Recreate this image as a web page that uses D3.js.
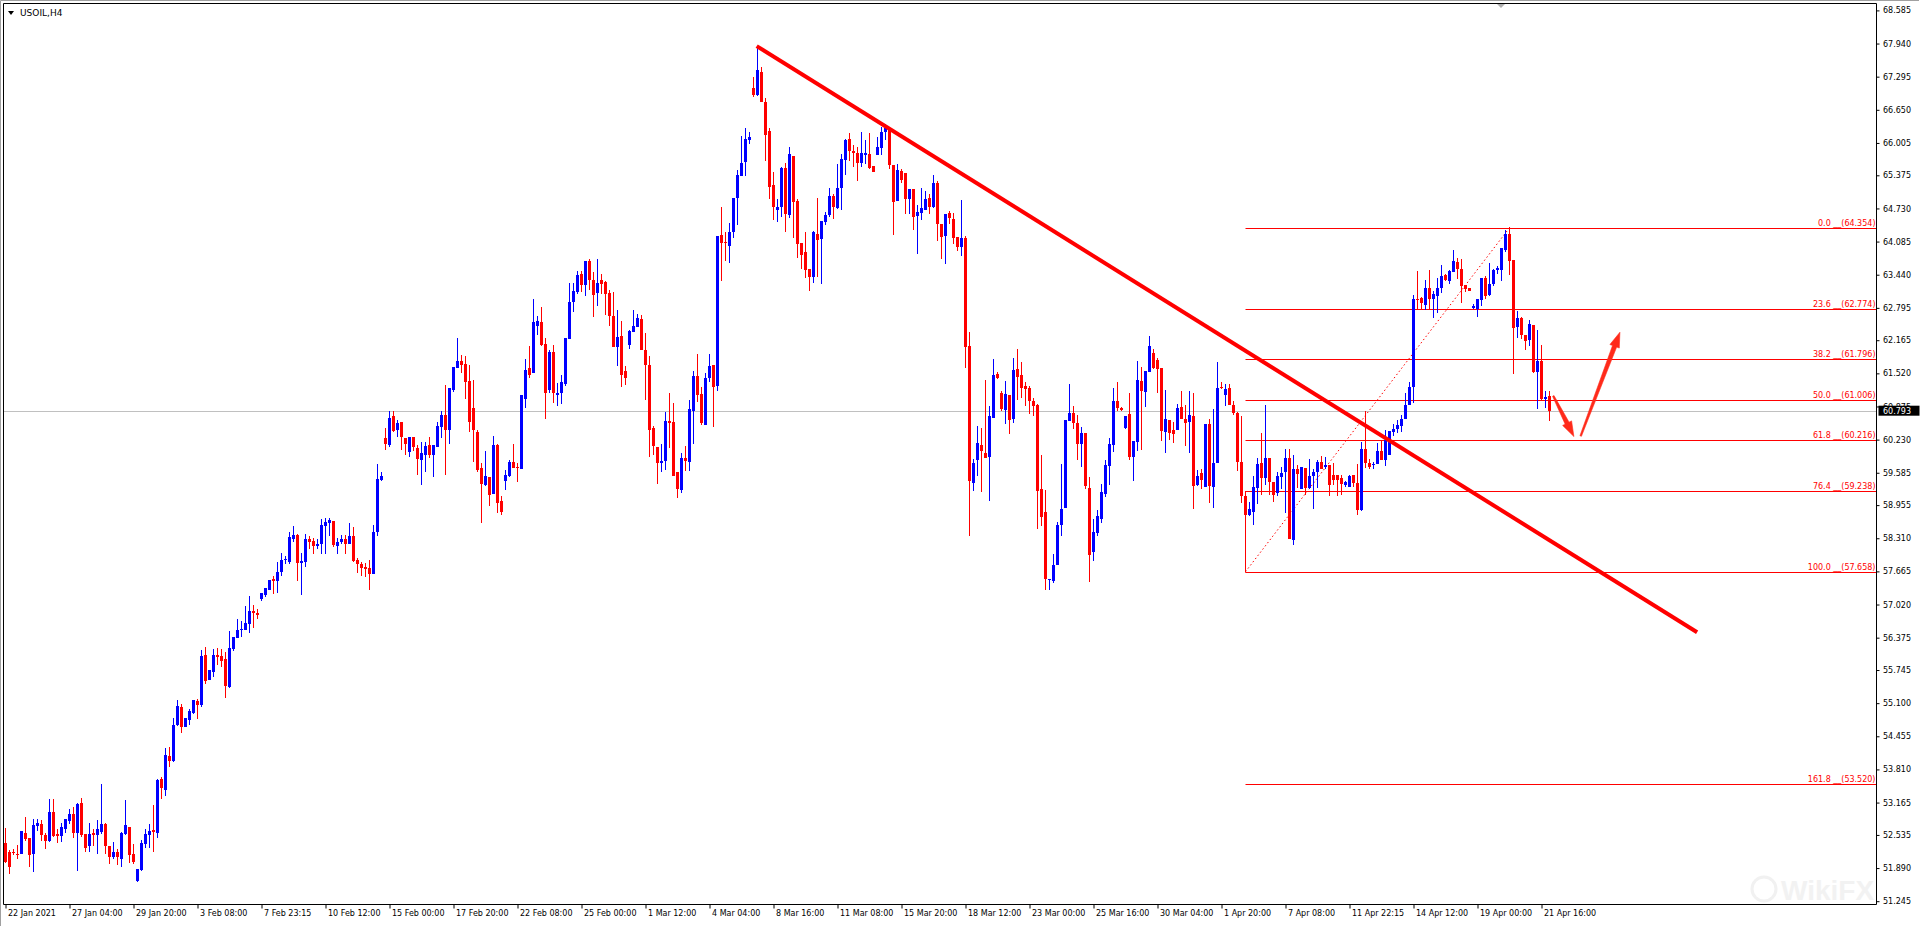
<!DOCTYPE html>
<html><head><meta charset="utf-8">
<script src="https://cdn.jsdelivr.net/npm/d3@7"></script>
<style>html,body{margin:0;padding:0;background:#fff;overflow:hidden}</style>
</head><body>
<svg id="c" width="1920" height="927" xmlns="http://www.w3.org/2000/svg"></svg>
<script>
const symbol = "USOIL,H4";
const timeLabels = ["22 Jan 2021","27 Jan 04:00","29 Jan 20:00","3 Feb 08:00","7 Feb 23:15","10 Feb 12:00","15 Feb 00:00","17 Feb 20:00","22 Feb 08:00","25 Feb 00:00","1 Mar 12:00","4 Mar 04:00","8 Mar 16:00","11 Mar 08:00","15 Mar 20:00","18 Mar 12:00","23 Mar 00:00","25 Mar 16:00","30 Mar 04:00","1 Apr 20:00","7 Apr 08:00","11 Apr 22:15","14 Apr 12:00","19 Apr 00:00","21 Apr 16:00"];
const timeLabelBars = [0,16,32,48,64,80,96,112,128,144,160,176,192,208,224,240,256,272,288,304,320,336,352,368,384];
const priceTicks = [68.585,67.940,67.295,66.650,66.005,65.375,64.730,64.085,63.440,62.795,62.165,61.520,60.875,60.230,59.585,58.955,58.310,57.665,57.020,56.375,55.745,55.100,54.455,53.810,53.165,52.535,51.890,51.245];
const currentPrice = 60.793;

const opens = [52.37,52.21,52.21,52.17,52.16,52.58,52.48,52.16,52.70,52.74,52.54,52.41,52.99,52.56,52.51,52.66,52.80,52.95,52.58,53.15,52.56,52.31,52.58,52.53,52.60,52.74,52.31,52.10,52.21,52.06,52.56,52.68,52.17,51.64,51.85,52.35,52.54,52.64,52.58,53.63,53.40,54.08,53.98,54.67,55.02,54.63,54.78,54.90,55.15,55.06,56.03,55.56,55.70,56.03,56.01,55.95,55.41,56.15,56.36,56.52,56.53,56.65,56.90,56.85,57.12,57.20,57.31,57.51,57.47,57.66,57.88,57.84,58.29,58.38,57.82,57.84,58.29,58.25,58.15,58.19,58.54,58.60,58.64,58.15,58.23,58.29,58.19,58.35,57.88,57.80,57.76,57.74,57.61,58.43,59.45,60.27,60.12,60.68,60.41,60.58,60.27,59.98,60.29,60.06,59.84,59.94,60.12,59.94,60.08,60.47,60.70,60.41,61.19,61.63,61.77,61.71,61.38,60.84,60.37,59.67,59.34,59.51,59.18,60.12,59.03,59.42,59.53,59.80,59.69,59.65,61.03,61.62,61.52,62.45,62.51,62.10,61.19,61.93,61.09,61.13,61.32,62.18,62.90,63.11,63.45,63.23,63.70,63.33,63.08,63.33,63.29,63.08,62.63,62.04,62.24,61.56,62.08,62.32,62.43,62.57,61.98,61.69,60.45,60.08,59.78,59.82,60.60,60.58,59.59,59.24,59.88,59.80,60.78,61.46,61.11,60.52,61.42,61.69,61.27,64.22,64.07,64.00,64.27,64.94,65.36,65.63,66.06,67.08,66.93,67.39,66.80,66.24,65.18,64.69,64.76,65.51,64.61,65.76,64.87,64.05,63.88,63.56,63.39,64.24,64.13,64.47,64.60,64.97,64.73,65.12,65.67,66.09,65.85,65.80,65.62,65.77,65.78,65.55,65.77,65.91,66.22,66.30,65.57,64.87,65.46,65.42,64.92,65.10,64.58,64.65,64.70,64.93,64.76,65.22,64.42,64.20,64.65,64.52,64.18,63.98,64.16,62.06,59.39,59.83,60.13,59.97,59.89,60.66,61.50,61.14,60.80,61.09,60.64,61.60,61.48,61.28,61.23,60.99,60.91,59.26,58.83,57.51,57.48,57.78,58.56,58.89,60.60,60.74,60.56,60.14,60.35,59.29,58.04,58.42,58.68,59.18,59.71,60.12,60.99,60.85,60.46,60.72,59.89,60.18,61.38,61.16,61.54,61.92,61.78,61.62,60.38,60.62,60.42,60.42,60.86,60.64,60.57,60.69,59.34,59.58,59.31,60.54,59.31,59.77,61.26,61.10,61.24,60.91,60.74,59.79,59.14,58.76,58.82,59.29,59.78,59.49,59.88,59.40,59.19,59.51,59.59,59.88,58.27,59.65,59.27,59.68,59.29,59.52,59.59,59.79,59.70,59.73,59.55,59.55,59.49,59.34,59.31,59.55,59.39,58.86,60.04,59.78,59.73,59.75,60.01,59.84,59.94,60.38,60.43,60.49,60.64,60.91,61.26,62.97,62.99,62.86,63.19,62.96,63.02,63.19,63.43,63.32,63.49,63.69,63.56,63.23,63.19,62.80,62.78,62.95,63.38,63.04,63.25,63.53,63.53,63.93,64.24,63.72,62.42,62.60,62.26,62.17,62.47,61.54,61.77,61.03,61.08];
const highs = [52.67,52.25,52.27,52.33,52.62,52.88,52.48,52.84,52.84,52.82,52.58,53.23,53.23,52.66,52.76,52.84,53.03,53.07,53.15,53.26,52.56,52.76,52.66,52.82,53.52,52.76,52.31,52.39,52.27,52.60,53.21,52.68,52.35,51.87,52.43,52.66,52.74,53.11,53.63,53.67,54.22,54.24,54.82,55.17,55.08,54.82,54.98,55.17,55.19,56.13,56.20,55.74,56.15,56.17,56.15,56.09,56.50,56.38,56.73,56.69,57.00,57.18,57.02,56.94,57.24,57.35,57.49,57.57,57.84,58.03,57.96,58.44,58.54,58.40,58.03,58.40,58.36,58.31,58.29,58.68,58.71,58.71,58.64,58.31,58.38,58.38,58.60,58.52,57.92,57.84,57.82,57.88,58.56,59.75,59.59,60.45,60.79,60.78,60.62,60.58,60.27,60.29,60.29,60.12,60.19,60.19,60.29,60.12,60.58,60.78,61.30,61.23,61.65,62.20,61.87,61.85,61.69,61.40,60.41,59.77,60.00,59.51,60.31,60.14,59.14,59.63,59.84,60.15,59.78,61.09,61.79,62.06,62.96,62.63,62.82,62.20,61.97,62.08,61.34,61.48,62.20,63.27,63.27,63.52,63.52,63.70,63.74,63.50,63.74,63.46,63.31,63.15,63.11,62.76,62.53,61.67,62.37,62.76,62.67,62.65,62.30,61.85,60.49,60.08,60.14,60.76,61.13,60.95,59.59,59.96,60.10,61.01,61.56,61.89,61.26,61.52,61.89,61.69,64.20,64.76,64.27,64.44,64.94,65.47,66.14,66.30,66.22,67.29,67.88,67.49,66.88,66.30,65.44,64.92,65.54,65.62,65.92,65.76,64.91,64.05,64.27,63.56,64.30,64.93,64.48,64.67,65.12,65.02,65.59,65.78,66.09,66.19,65.96,65.93,66.22,66.07,66.19,65.55,66.12,66.32,66.38,66.32,65.57,65.59,65.49,65.42,65.10,65.10,64.80,65.12,65.07,65.02,65.39,65.26,64.42,64.63,64.68,64.65,64.18,64.89,64.19,62.33,59.86,60.50,60.45,61.40,60.89,61.79,61.54,61.17,61.37,61.09,61.82,62.00,61.75,61.35,61.28,61.04,60.93,59.94,59.24,57.52,58.01,58.62,59.75,60.62,61.32,60.88,60.70,60.47,60.35,59.51,58.68,58.86,59.36,59.83,60.27,61.23,61.36,60.86,60.68,61.13,60.20,61.77,61.65,61.56,62.25,61.99,61.81,61.62,61.19,60.62,60.57,60.93,61.17,60.91,61.17,61.14,59.63,59.65,60.53,60.64,60.82,61.75,61.36,61.32,61.32,60.99,60.77,60.69,59.23,59.02,59.53,59.88,60.35,60.90,59.88,59.40,59.59,59.70,60.05,60.05,59.94,59.73,59.70,59.68,59.86,59.65,59.83,59.92,59.90,59.73,59.77,59.55,59.55,59.42,59.55,59.55,59.75,60.18,60.79,59.86,59.79,60.16,60.20,60.41,60.40,60.54,60.62,60.70,61.14,61.36,63.04,63.51,63.01,63.33,63.54,63.12,63.38,63.62,63.45,63.54,63.93,63.77,63.74,63.23,63.19,62.87,62.96,63.38,63.41,63.67,63.56,63.61,63.96,64.31,64.37,63.72,62.73,62.62,62.26,62.55,62.47,62.36,62.08,61.17,61.17];
const lows = [51.99,51.77,52.15,52.06,52.16,52.41,51.91,51.81,52.62,52.41,52.27,52.39,52.49,52.37,52.39,52.58,52.74,52.47,51.83,52.50,52.21,52.21,52.31,52.17,52.56,52.17,51.97,52.06,51.95,51.91,52.53,51.99,51.97,51.62,51.83,52.29,52.29,52.21,52.47,53.23,53.30,53.85,53.95,54.65,54.51,54.63,54.67,54.88,54.80,55.02,55.47,55.55,55.60,55.85,55.81,55.21,55.39,56.11,56.36,56.38,56.52,56.46,56.57,56.73,57.08,57.16,57.31,57.22,57.24,57.57,57.80,57.80,58.23,57.47,57.20,57.76,58.11,58.01,58.11,58.01,58.01,58.35,58.13,58.01,58.19,58.01,58.19,57.84,57.64,57.57,57.55,57.31,57.61,58.35,59.42,60.02,60.08,60.37,60.29,60.02,59.94,59.90,60.00,59.55,59.34,59.59,59.88,59.51,60.08,60.27,59.55,60.14,61.15,61.62,61.52,61.03,60.37,59.80,59.59,58.60,59.32,58.93,59.18,58.81,58.77,59.24,59.51,59.67,59.40,59.65,60.84,61.42,61.52,62.26,62.06,60.64,61.13,60.95,60.88,60.93,61.28,62.18,62.72,63.06,63.11,63.02,63.15,62.61,62.84,63.06,62.65,62.45,62.04,61.67,61.26,61.30,62.00,62.32,62.43,61.97,61.01,59.90,59.94,59.36,59.59,59.63,60.06,59.53,59.10,59.20,59.61,59.61,60.15,60.97,60.52,60.52,61.36,60.48,61.17,63.32,63.70,63.67,64.15,64.41,65.36,65.36,65.98,66.90,66.92,66.80,65.65,64.91,64.50,64.46,64.56,64.28,64.54,64.15,63.77,63.56,63.37,63.12,63.27,63.39,63.25,64.41,64.57,64.52,64.71,64.70,65.38,65.65,65.54,65.27,65.54,65.59,65.49,65.44,65.77,65.77,66.07,65.49,64.21,64.87,65.22,64.63,64.63,64.31,63.85,64.50,64.70,64.63,64.74,64.09,63.74,63.64,64.42,64.03,63.90,63.80,61.62,58.35,59.23,59.52,59.21,59.88,59.03,60.65,61.41,60.79,60.53,60.33,60.56,61.00,61.04,60.88,60.72,60.69,58.49,58.55,57.31,57.31,57.44,57.78,58.35,58.89,60.59,60.43,59.83,59.69,59.26,57.46,57.87,58.35,58.61,59.12,59.34,59.99,60.78,60.78,60.44,59.83,59.42,60.01,60.03,60.86,61.54,61.60,61.14,60.20,59.97,60.22,60.16,60.42,60.64,60.10,59.97,58.88,59.33,59.26,59.31,58.99,58.90,59.77,61.21,60.88,60.91,60.71,59.62,59.00,58.74,58.74,58.57,58.97,59.16,59.34,59.16,59.01,59.13,59.26,58.81,58.29,58.17,59.29,59.27,59.16,59.27,58.87,59.29,59.66,59.66,59.14,59.34,59.14,59.16,59.31,59.31,59.31,58.77,58.84,59.68,59.66,59.65,59.75,59.83,59.71,59.94,60.30,60.36,60.38,60.64,60.90,60.95,62.76,62.75,62.75,62.76,62.60,62.69,63.09,63.32,63.25,63.49,63.35,62.88,63.10,63.12,62.78,62.62,62.84,62.97,63.02,63.22,63.45,63.32,63.88,63.43,61.50,62.21,62.19,61.97,62.06,61.53,60.82,61.01,60.85,60.59];
const closes = [52.01,51.91,52.19,52.14,52.62,52.45,52.14,52.72,52.76,52.53,52.41,52.99,52.51,52.51,52.68,52.84,52.95,52.58,53.13,52.54,52.29,52.56,52.53,52.66,52.74,52.31,52.10,52.21,52.10,52.58,52.72,52.15,52.00,51.87,52.37,52.56,52.62,52.60,53.61,53.44,54.10,53.97,54.67,55.04,54.63,54.82,54.94,55.17,55.06,56.01,55.54,55.74,56.03,55.99,55.93,55.43,56.18,56.38,56.53,56.55,56.67,56.90,56.85,56.81,57.24,57.35,57.49,57.47,57.66,57.88,57.90,58.33,58.38,57.82,57.86,58.29,58.23,58.15,58.19,58.56,58.62,58.66,58.17,58.23,58.29,58.19,58.36,57.86,57.80,57.74,57.72,57.61,58.44,59.46,59.53,60.15,60.66,60.39,60.55,60.29,60.14,60.29,60.08,59.86,59.96,60.10,59.94,60.12,60.49,60.70,60.41,61.23,61.65,61.77,61.69,61.36,60.58,60.41,59.63,59.36,59.53,59.16,60.12,58.99,58.83,59.55,59.80,59.67,59.67,61.09,61.58,61.48,62.51,62.53,62.08,61.13,61.93,61.13,61.13,61.36,62.20,62.90,63.13,63.43,63.23,63.70,63.33,63.04,63.27,63.25,63.06,62.63,62.04,62.22,61.48,61.42,62.34,62.45,62.59,61.98,61.69,60.41,60.10,59.78,59.82,60.60,60.55,59.53,59.26,59.88,59.82,60.82,61.46,61.09,60.56,61.42,61.67,61.26,64.19,64.06,64.05,64.28,64.94,65.39,65.62,66.09,66.13,66.93,67.42,66.80,66.15,65.15,64.76,64.76,65.51,64.63,65.78,64.86,64.03,63.83,63.54,63.39,64.27,64.11,64.48,64.60,64.97,64.76,65.12,65.70,66.07,65.85,65.80,65.62,65.80,65.80,65.52,65.44,65.93,66.22,66.30,65.57,64.85,65.47,65.28,64.92,65.10,64.57,64.66,64.73,64.91,64.76,65.22,64.42,64.17,64.63,64.55,64.15,63.98,64.16,62.04,59.42,59.78,60.17,60.01,59.88,60.68,61.48,61.43,60.82,61.11,60.61,61.58,61.45,61.23,61.21,60.98,60.88,59.23,58.72,57.51,57.52,57.79,58.56,58.87,60.62,60.74,60.56,60.14,60.35,59.32,57.99,58.44,58.74,59.21,59.73,60.14,60.98,60.84,60.80,60.68,59.89,60.20,61.40,61.17,61.56,62.05,61.63,61.61,60.40,60.64,60.35,60.33,60.85,60.64,60.56,60.70,59.33,59.53,59.45,60.53,59.33,59.78,61.24,61.24,61.22,60.91,60.74,59.79,59.13,58.76,58.87,59.31,59.76,59.49,59.88,59.40,59.16,59.52,59.58,59.88,58.29,59.65,59.57,59.70,59.29,59.52,59.60,59.79,59.66,59.73,59.34,59.44,59.44,59.36,59.40,59.53,59.39,58.86,60.04,59.78,59.70,59.75,60.01,59.84,60.23,60.40,60.43,60.51,60.64,60.91,61.26,62.96,62.95,62.89,63.19,62.96,63.06,63.19,63.41,63.34,63.51,63.70,63.56,63.22,63.17,63.12,62.84,62.96,63.37,63.02,63.25,63.53,63.58,63.96,64.24,63.70,62.41,62.60,62.26,62.15,62.49,61.54,61.76,61.03,61.06,60.79];

const fibLevels = [0.0, 23.6, 38.2, 50.0, 61.8, 76.4, 100.0, 161.8];
const fibPrices = [64.354, 62.774, 61.796, 61.006, 60.216, 59.238, 57.658, 53.520];
const fibAnchorBars = [310, 376];
const trendBars = [187.8, 422.9];
const trendPrices = [67.89, 56.48];
const arrowDownBars = [386.95, 392.1];
const arrowDownPrices = [61.08, 60.29];
const arrowUpBars = [393.8, 403.6];
const arrowUpPrices = [60.30, 62.32];

const svg = d3.select("#c");
const FONT = "DejaVu Sans";
const plotL = 3.5, plotT = 3.5, plotR = 1876.5, plotB = 904.5;
const RED = "#ff0000", BLUE = "#0000ff";

const x = d3.scaleLinear().domain([0, 386]).range([5.5, 5.5 + 4 * 386]);
const y = d3.scaleLinear().domain([51.245, 68.585]).range([901.2, 10.4]);

svg.append("rect").attr("width", 1920).attr("height", 927).attr("fill", "#fff");

// watermark (kept inside the plot area)
const wm = svg.append("g").attr("opacity", 0.55);
wm.append("circle").attr("cx", 1764).attr("cy", 889).attr("r", 12).attr("fill", "none").attr("stroke", "#e6e6e6").attr("stroke-width", 3);
wm.append("text").attr("x", 1781).attr("y", 900).attr("font-family", "Liberation Sans").attr("font-weight", "bold")
  .attr("font-size", 28).attr("fill", "#e9e9e9").text("WikiFX");

// current price line
svg.append("line").attr("x1", plotL).attr("x2", plotR)
  .attr("y1", Math.round(y(currentPrice)) + 0.5).attr("y2", Math.round(y(currentPrice)) + 0.5)
  .attr("stroke", "#c0c0c0").attr("stroke-width", 1);

// fib lines
const fg = svg.append("g");
fibPrices.forEach((p, k) => {
  const yy = Math.round(y(p)) + 0.5;
  fg.append("line").attr("x1", x(fibAnchorBars[0])).attr("x2", plotR).attr("y1", yy).attr("y2", yy)
    .attr("stroke", RED).attr("stroke-width", 1);
  fg.append("text").attr("x", plotR - 1).attr("y", yy - 2.5).attr("text-anchor", "end")
    .attr("font-family", FONT).attr("font-size", 8).attr("fill", RED)
    .text(`${fibLevels[k].toFixed(1)} __(${p.toFixed(3)})`);
});
fg.append("line").attr("x1", x(fibAnchorBars[0])).attr("x2", x(fibAnchorBars[0]))
  .attr("y1", Math.round(y(fibPrices[5])) + 0.5).attr("y2", Math.round(y(fibPrices[6])) + 0.5)
  .attr("stroke", RED).attr("stroke-width", 1);
fg.append("line").attr("x1", x(fibAnchorBars[0])).attr("y1", y(fibPrices[6]))
  .attr("x2", x(fibAnchorBars[1])).attr("y2", y(fibPrices[0]))
  .attr("stroke", RED).attr("stroke-width", 1).attr("stroke-dasharray", "1.5,2.5");

// candles
const cg = svg.append("g");
const bars = d3.range(opens.length);
cg.selectAll("rect.w").data(bars).join("rect").attr("class", "w")
  .attr("x", i => x(i) - 0.5).attr("width", 1)
  .attr("y", i => Math.round(y(highs[i])))
  .attr("height", i => Math.max(1, Math.round(y(lows[i])) - Math.round(y(highs[i]))))
  .attr("fill", i => closes[i] >= opens[i] ? BLUE : RED);
cg.selectAll("rect.b").data(bars).join("rect").attr("class", "b")
  .attr("x", i => x(i) - 1.5).attr("width", 3)
  .attr("y", i => Math.round(y(Math.max(opens[i], closes[i]))))
  .attr("height", i => Math.max(1, Math.round(y(Math.min(opens[i], closes[i]))) - Math.round(y(Math.max(opens[i], closes[i])))))
  .attr("fill", i => closes[i] >= opens[i] ? BLUE : RED);

// trendline
svg.append("line").attr("x1", x(trendBars[0])).attr("y1", y(trendPrices[0]))
  .attr("x2", x(trendBars[1])).attr("y2", y(trendPrices[1]))
  .attr("stroke", RED).attr("stroke-width", 4);

// arrows
function arrow(bs, ps) {
  const tx = x(bs[0]), ty = y(ps[0]), px = x(bs[1]), py = y(ps[1]);
  const L = Math.hypot(px - tx, py - ty);
  const ux = (px - tx) / L, uy = (py - ty) / L, nx = -uy, ny = ux;
  const h = 15, hw = 5, sw0 = 0.8, sw1 = 2.2;
  const bx = px - ux * h, by = py - uy * h;
  const pts = [
    [tx + nx * sw0, ty + ny * sw0], [bx + nx * sw1, by + ny * sw1], [bx + nx * hw, by + ny * hw],
    [px, py], [bx - nx * hw, by - ny * hw], [bx - nx * sw1, by - ny * sw1], [tx - nx * sw0, ty - ny * sw0]
  ];
  svg.append("path").attr("d", d3.line()(pts) + "Z").attr("fill", "#ff2a1a").attr("stroke", "#ff2a1a").attr("stroke-width", 0.6);
}
arrow(arrowDownBars, arrowDownPrices);
arrow(arrowUpBars, arrowUpPrices);

// frame
svg.append("path").attr("d", `M${plotL},${plotB}V${plotT}H${plotR}V${plotB}Z`).attr("fill", "none").attr("stroke", "#000").attr("stroke-width", 1);
svg.append("path").attr("d", "M0.5,926V0.5H1919").attr("fill", "none").attr("stroke", "#a0a0a0");

// right axis
const ya = svg.append("g").attr("transform", `translate(${plotR},0)`)
  .call(d3.axisRight(y).tickValues(priceTicks).tickSize(3).tickPadding(3.5).tickFormat(d3.format(".3f")));
ya.select(".domain").remove();
ya.selectAll("text").attr("font-family", FONT).attr("font-size", 8).attr("fill", "#000");
ya.selectAll("line").attr("stroke", "#000");

// bottom axis
const xa = svg.append("g").attr("transform", `translate(0,${plotB})`)
  .call(d3.axisBottom(x).tickValues(timeLabelBars).tickSize(4).tickPadding(2).tickFormat((d, k) => timeLabels[k]));
xa.select(".domain").remove();
xa.selectAll("text").attr("font-family", FONT).attr("font-size", 8).attr("fill", "#000")
  .attr("text-anchor", "start").attr("dx", 2);
xa.selectAll("line").attr("stroke", "#000");

// current price box
const cy = y(currentPrice);
svg.append("rect").attr("x", plotR + 2).attr("y", cy - 5).attr("width", 41).attr("height", 10).attr("fill", "#000");
svg.append("text").attr("x", plotR + 6.5).attr("y", cy + 3).attr("font-family", FONT).attr("font-size", 8)
  .attr("fill", "#fff").text(currentPrice.toFixed(3));

// title
svg.append("path").attr("d", "M8,11L14,11L11,15Z").attr("fill", "#000");
svg.append("text").attr("x", 20).attr("y", 16).attr("font-family", FONT).attr("font-size", 9).attr("fill", "#000").text(symbol);

// shift marker
svg.append("path").attr("d", "M1497,4L1505,4L1501,8Z").attr("fill", "#b0b0b0");
</script>
</body></html>
